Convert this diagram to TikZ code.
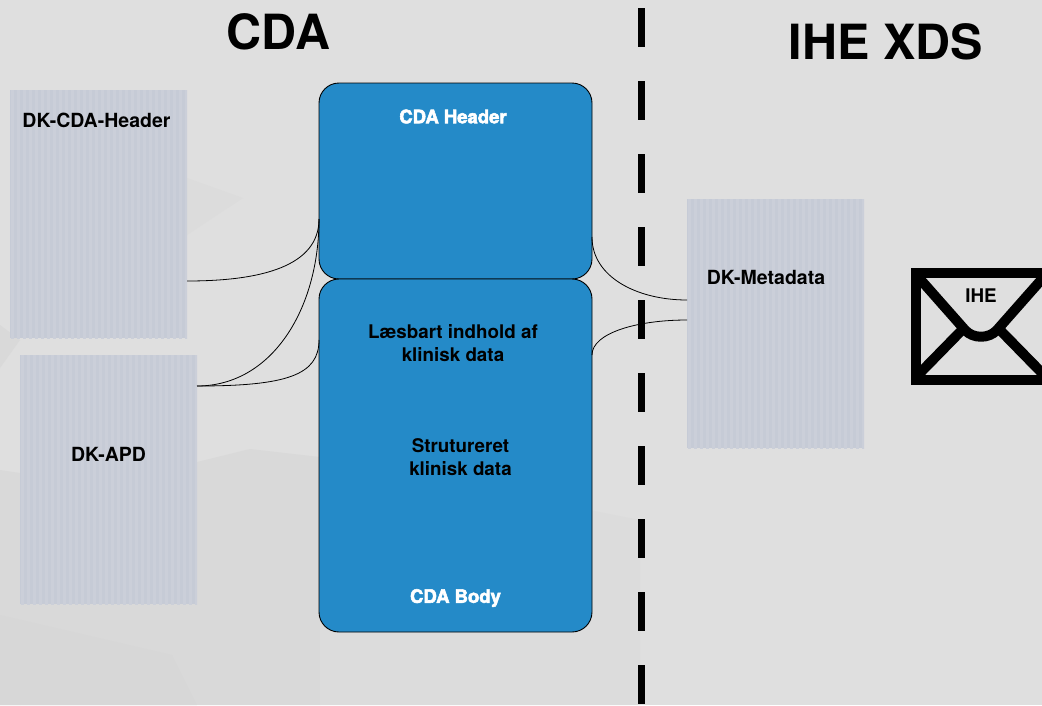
\documentclass[tikz,border=0pt]{standalone}
\usepackage{fontspec}
\setmainfont{TeX Gyre Heros}
\newfontfamily\fatfont[BoldFont={TeX Gyre Heros Bold},BoldFeatures={FakeBold=3}]{TeX Gyre Heros}
\definecolor{bgbase}{HTML}{DFDFDF}
\definecolor{bgA}{HTML}{DCDCDC}
\definecolor{bgB}{HTML}{D7D7D7}
\definecolor{bgC}{HTML}{D9D9D9}
\definecolor{blueb}{HTML}{248AC8}
\definecolor{stripeA}{HTML}{C6CBD6}
\definecolor{stripeB}{HTML}{CBCFD9}
\tikzset{
  stripebox/.style={minimum width=#1, inner sep=0pt, outer sep=0pt, fill=stripeA,
    path picture={
      \foreach \i in {0,6,...,240}{
        \fill[stripeB] ([xshift=\i pt+1pt]path picture bounding box.north west) rectangle ++(3pt,-260pt);
      }}},
  bluebox/.style={draw=black, line width=0.9pt, fill=blueb, rounded corners=20pt, inner sep=0pt, outer sep=0pt, minimum width=273pt},
  txt/.style={font=\bfseries\fontsize{18.8}{23}\selectfont, text=black, align=center, inner sep=0pt},
  boxtxt/.style={font=\bfseries\fontsize{19.5}{23}\selectfont, text=black, align=center, inner sep=0pt},
  whitetxt/.style={font=\fatfont\bfseries\fontsize{18.5}{22}\selectfont, text=white, inner sep=0pt},
  title/.style={font=\bfseries\fontsize{48.5}{52}\selectfont, text=black, inner sep=0pt},
  link/.style={draw=black, line width=0.8pt},
  divider/.style={draw=black, line width=7pt, dash pattern=on 39pt off 34pt},
  envline/.style={draw=black, line width=10pt},
}
\begin{document}
\begin{tikzpicture}[x=1pt,y=-1pt]
\useasboundingbox (0,0) rectangle (1042,705);
\begin{scope}
\clip (0,0) rectangle (1042,705);
\fill[bgbase] (0,0) rectangle (1042,705);
% faint background facets
\fill[bgA] (187,178) -- (243,198) -- (187,235) -- cycle;
\fill[bgC] (0,325) -- (20,340) -- (0,368) -- cycle;
\fill[bgC] (0,470) -- (20,473) -- (197,462) -- (250,449) -- (320,457) -- (320,705) -- (0,705) -- cycle;
\fill[bgC!50!bgbase] (320,457) -- (640,520) -- (640,705) -- (320,705) -- cycle;
\fill[bgB] (0,615) -- (172,655) -- (20,705) -- (0,705) -- cycle;
\fill[bgB!90!bgC] (172,655) -- (197,705) -- (20,705) -- cycle;

% divider
\draw[divider] (641,8) -- (641,705);

% boxes
\node[stripebox=177pt, minimum height=248pt, anchor=north west] (hdr) at (10,90) {};
\node[stripebox=177pt, minimum height=249pt, anchor=north west] (apd) at (20,355) {};
\node[stripebox=177pt, minimum height=249pt, anchor=north west] (meta) at (687,199) {};
\node[bluebox, minimum height=196pt, anchor=north west] (cdah) at (319,83) {};
\node[bluebox, minimum height=353pt, anchor=north west] (cdab) at (319,279) {};

% connector ends
\coordinate (hdrout) at (hdr.east |- 0,281);
\coordinate (apdout) at (apd.east |- 0,386);
\coordinate (hL) at (cdah.west |- 0,219);
\coordinate (bL) at (cdab.west |- 0,340);
\coordinate (hR) at (cdah.east |- 0,237);
\coordinate (bR) at (cdab.east |- 0,355);
\coordinate (mA) at (meta.west |- 0,300);
\coordinate (mB) at (meta.west |- 0,320);

\draw[link] (hdrout) .. controls +(75,0) and +(0,47) .. (hL);
\draw[link] (apdout) .. controls +(75,0) and +(0,90) .. (hL);
\draw[link] (apdout) .. controls +(90,0) and +(0,35) .. (bL);
\draw[link] (hR) .. controls +(0,40) and +(-50,0) .. (mA);
\draw[link] (bR) .. controls +(0,-22) and +(-50,0) .. (mB);

% envelope
\node[draw=black, line width=10pt, outer sep=0pt, minimum width=131pt, minimum height=107pt, inner sep=0pt, anchor=north west] (env) at (916,273) {};
\coordinate (fL) at (916,274.5);
\coordinate (fR) at (1046,274.5);
\draw[envline, line join=round] (fL) -- (965,330) .. controls (973,339) and (989,339) .. (997,330) -- (fR);
\draw[envline] (919,374) -- (963,329);
\draw[envline] (1043,374) -- (999,329);
\end{scope}

% texts
\node[title] (t1) at (278.5,32) {CDA};
\node[title] (t2) at (886,41.5) {IHE XDS};
\node[boxtxt] (l1) at (96.5,120.5) {DK-CDA-Header};
\node[boxtxt] (l2) at (108.5,454) {DK-APD};
\node[boxtxt] (l3) at (766,277.5) {DK-Metadata};
\node[txt] (l4) at (981,295.5) {IHE};
\node[whitetxt] (w1) at (453,116.5) {CDA Header};
\node[whitetxt] (w2) at (455.5,598) {CDA Body};
\node[txt] (b1) at (453,343) {Læsbart indhold af\\klinisk data};
\node[txt] (b2) at (460.5,457) {Strutureret\\klinisk data};
\end{tikzpicture}
\end{document}
